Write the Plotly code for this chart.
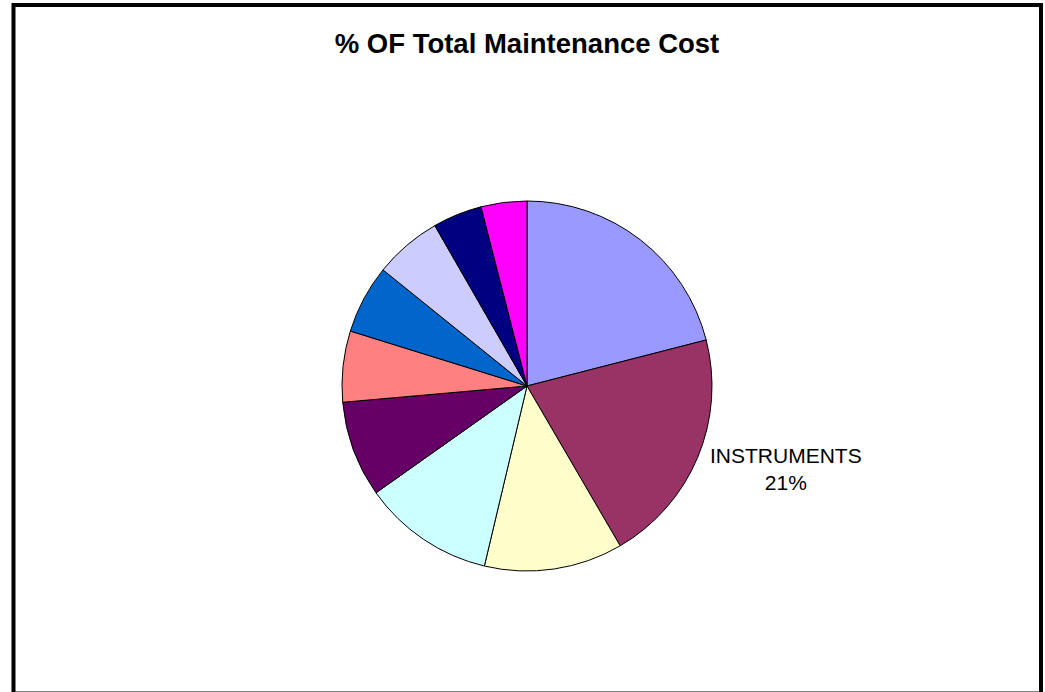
import plotly.graph_objects as go

# Data (clockwise from 12 o'clock)
labels = ["MECHANICAL", "INSTRUMENTS", "ELECTRICAL", "CIVIL", "PIPING",
          "ROTATING", "STATIC", "HVAC", "PAINTING", "OTHERS"]
values = [21.0, 20.6, 12.1, 11.5, 8.4, 6.2, 6.0, 5.9, 4.3, 4.0]
colors = ["#9999FF", "#993366", "#FFFFCC", "#CCFFFF", "#660066",
          "#FF8080", "#0066CC", "#CCCCFF", "#000080", "#FF00FF"]
title_text = "% OF Total Maintenance Cost"
labeled_index = 1

W, H = 1045, 692
FONT = "Liberation Sans, Arial, sans-serif"

def px(x):
    return x / W

def py(y):
    return 1 - y / H

total = sum(values)
label_text = f"{labels[labeled_index]}<br>{values[labeled_index] / total:.0%}"

fig = go.Figure(go.Pie(
    labels=labels,
    values=values,
    marker=dict(colors=colors, line=dict(color="black", width=1)),
    sort=False,
    direction="clockwise",
    rotation=0,
    textinfo="none",
    hoverinfo="label+percent",
    showlegend=False,
    domain=dict(x=[px(342), px(712)], y=[py(571), py(201)]),
))

fig.add_annotation(
    x=px(785.5), y=py(469), xref="paper", yref="paper",
    text=label_text, showarrow=False,
    xanchor="center", yanchor="middle",
    font=dict(family=FONT, size=21, color="black"),
)

fig.add_shape(
    type="rect", xref="paper", yref="paper",
    x0=px(13.5), x1=px(1041), y0=py(693.5), y1=py(5),
    line=dict(color="black", width=4), fillcolor="rgba(0,0,0,0)",
)

fig.update_layout(
    width=W, height=H,
    margin=dict(l=0, r=0, t=0, b=0),
    paper_bgcolor="white", plot_bgcolor="white",
    title=dict(text=f"<b>{title_text}</b>", x=px(527), xanchor="center",
               y=py(43), yanchor="middle", xref="paper", yref="container",
               font=dict(family=FONT, size=27.5, color="black")),
    font=dict(family=FONT),
)

fig.write_html("out.html",
               config={"displayModeBar": False},
               post_script="document.body.style.margin='0';document.body.style.overflow='hidden';")
